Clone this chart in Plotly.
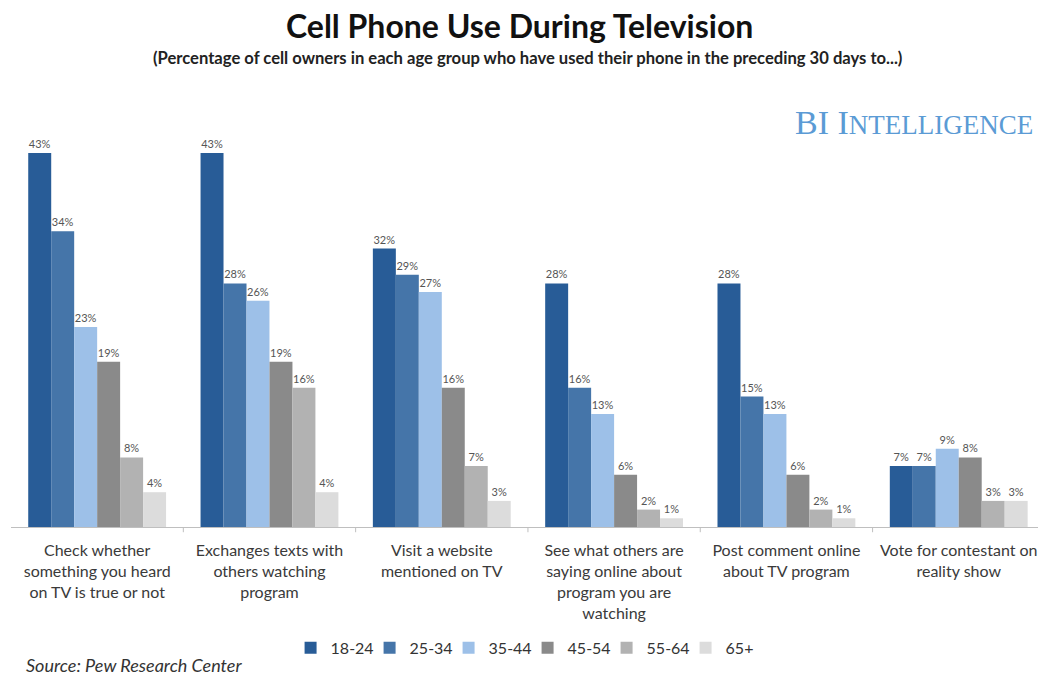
import plotly.graph_objects as go

categories = [
    "Check whether<br>something you heard<br>on TV is true or not",
    "Exchanges texts with<br>others watching<br>program",
    "Visit a website<br>mentioned on TV",
    "See what others are<br>saying online about<br>program you are<br>watching",
    "Post comment online<br>about TV program",
    "Vote for contestant on<br>reality show",
]
age_groups = ["18-24", "25-34", "35-44", "45-54", "55-64", "65+"]
values = {
    "18-24": [43, 43, 32, 28, 28, 7],
    "25-34": [34, 28, 29, 16, 15, 7],
    "35-44": [23, 26, 27, 13, 13, 9],
    "45-54": [19, 19, 16, 6, 6, 8],
    "55-64": [8, 16, 7, 2, 2, 3],
    "65+": [4, 4, 3, 1, 1, 3],
}
colors = ["#285c97", "#4575a9", "#9dc0e8", "#8a8a8a", "#b2b2b2", "#dcdcdc"]

FONT = "Lato, 'Open Sans', sans-serif"

fig = go.Figure()
x_idx = list(range(len(categories)))
for g, c in zip(age_groups, colors):
    fig.add_trace(go.Bar(
        x=x_idx, y=values[g], name=g, marker=dict(color=c, line=dict(width=0)),
        texttemplate="%{y}%", textposition="outside",
        textfont=dict(size=11, color="#555555", family=FONT),
        cliponaxis=False,
    ))

fig.update_layout(
    width=1038, height=677,
    margin=dict(l=11, r=0, t=92, b=150),
    paper_bgcolor="white", plot_bgcolor="white",
    barmode="group", bargap=0.2, bargroupgap=0,
    font=dict(family=FONT, color="#333333"),
    showlegend=True,
    legend=dict(orientation="h", x=0.503, xanchor="center", y=-0.278, yanchor="middle",
                font=dict(size=16, color="#333333"), itemwidth=30, entrywidth=34,
                traceorder="normal"),
    xaxis=dict(tickmode="array", tickvals=x_idx, ticktext=categories,
               range=[-0.5, 5.46], showgrid=False, showline=True, linecolor="#bfbfbf",
               linewidth=1, ticks="", ticklabelstandoff=9,
               tickfont=dict(size=16, color="#3a3a3a", family=FONT),
               fixedrange=True),
    yaxis=dict(range=[0, 50], visible=False, showgrid=False, fixedrange=True),
)

for b in [0.5, 1.5, 2.5, 3.5, 4.5]:
    fig.add_shape(type="line", xref="x", yref="paper", x0=b, x1=b, y0=0, y1=-0.012,
                  line=dict(color="#bfbfbf", width=1))

fig.add_annotation(text="<b>Cell Phone Use During Television</b>", xref="paper", yref="paper",
                   x=0.495, y=1.154, showarrow=False, xanchor="center", yanchor="middle",
                   font=dict(size=32, color="#111111", family=FONT))
fig.add_annotation(text="<b>(Percentage of cell owners in each age group who have used their phone in the preceding 30 days to...)</b>",
                   xref="paper", yref="paper", x=0.503, y=1.078, showarrow=False,
                   xanchor="center", yanchor="middle",
                   font=dict(size=16.6, color="#222222", family=FONT))
fig.add_annotation(text="BI I<span style='font-size:27px'>NTELLIGENCE</span>", xref="paper", yref="paper",
                   x=0.997, y=0.931, showarrow=False, xanchor="right", yanchor="middle",
                   font=dict(size=34, color="#5b9bd5", family="'Liberation Serif', 'DejaVu Serif', serif"))
fig.add_annotation(text="<i>Source: Pew Research Center</i>", xref="paper", yref="paper",
                   x=0.013, y=-0.317, showarrow=False, xanchor="left", yanchor="middle",
                   font=dict(size=18, color="#333333", family=FONT))

fig.write_html("out.html")
